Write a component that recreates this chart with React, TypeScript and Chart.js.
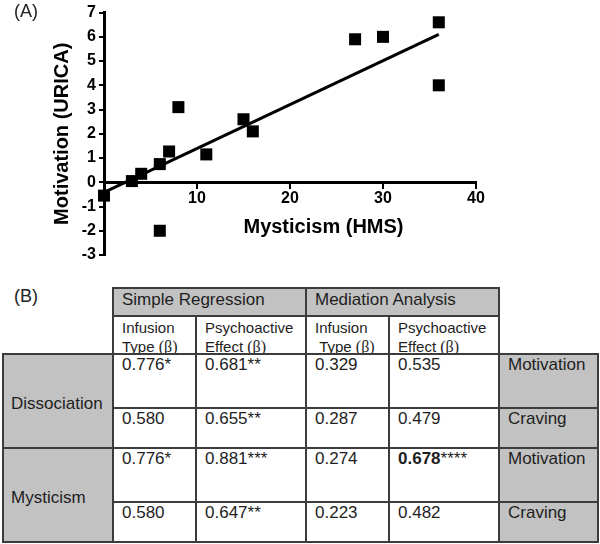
import React, { useEffect, useRef } from 'react';
import { Chart, registerables } from 'chart.js';

Chart.register(...registerables);

// ---------- Panel A data ----------
const mysticism = [0, 3, 4, 6, 7, 8, 11, 15, 16, 6, 27, 30, 36, 36];
const motivation = [-0.55, 0.05, 0.35, 0.75, 1.27, 3.1, 1.15, 2.6, 2.1, -2.0, 5.9, 6.0, 6.6, 4.0];
const fitX = [0, 36];
const fitY = [-0.42, 6.1];
const xTitle = 'Mysticism (HMS)';
const yTitle = 'Motivation (URICA)';

// ---------- Panel B data ----------
const simpleHeader = 'Simple Regression';
const mediationHeader = 'Mediation Analysis';
const groups = ['Dissociation', 'Mysticism'];
const outcomes = ['Motivation', 'Craving', 'Motivation', 'Craving'];
const simpleInfusion = ['0.776*', '0.580', '0.776*', '0.580'];
const simplePsycho = ['0.681**', '0.655**', '0.881***', '0.647**'];
const medInfusion = ['0.329', '0.287', '0.274', '0.223'];
const medPsycho = ['0.535', '0.479', '0.678', '0.482'];
const medPsychoStars = ['', '', '****', ''];
const medPsychoBold = [false, false, true, false];

const FONT = '"Liberation Sans", Arial, Helvetica, sans-serif';

// layout constants
const colX = [3, 113, 196, 306, 389, 499, 598];
const rowY = [288, 316, 354, 408, 448, 502, 542];
const GRAY = '#c2c2c2';
const LINE = '#3c3c3c';
const xTitlePos = 23.6;

const xTitlePlugin = {
  id: 'xTitlePlugin',
  afterDraw(chart: any) {
    const { ctx, scales } = chart;
    const x = scales.x;
    const y = scales.y;
    ctx.save();
    ctx.font = `bold 20px ${FONT}`;
    ctx.fillStyle = '#000';
    ctx.textAlign = 'center';
    ctx.textBaseline = 'alphabetic';
    ctx.fillText(xTitle, x.getPixelForValue(xTitlePos), y.getPixelForValue(0) + 51);
    ctx.restore();
  },
};

function ScatterChart() {
  const ref = useRef<HTMLCanvasElement | null>(null);
  useEffect(() => {
    if (!ref.current) return;
    Chart.defaults.font.family = FONT;
    const tickFont = { family: FONT, size: 16, weight: 'bold' as const };
    const chart = new Chart(ref.current, {
      type: 'scatter',
      data: {
        datasets: [
          {
            type: 'line' as any,
            data: fitX.map((x, i) => ({ x, y: fitY[i] })),
            borderColor: '#000',
            borderWidth: 3,
            pointRadius: 0,
            fill: false,
            clip: false,
            order: 1,
          } as any,
          {
            type: 'scatter',
            data: mysticism.map((x, i) => ({ x, y: motivation[i] })),
            pointStyle: 'rect',
            pointRadius: 8.5,
            backgroundColor: '#000',
            borderColor: '#000',
            borderWidth: 0,
            clip: false,
            order: 0,
          } as any,
        ],
      },
      options: {
        responsive: false,
        animation: false,
        devicePixelRatio: 1,
        layout: { padding: { left: 0, top: 10, right: 124, bottom: 15 } },
        plugins: { legend: { display: false }, tooltip: { enabled: false } },
        scales: {
          x: {
            type: 'linear',
            position: { y: 0 } as any,
            min: 0,
            max: 40,
            ticks: {
              stepSize: 10,
              callback: (v: any) => (v === 0 ? '' : String(v)),
              font: tickFont,
              color: '#000',
              padding: 2,
              maxRotation: 0,
            },
            grid: { display: true, drawOnChartArea: false, drawTicks: true, tickLength: 5, color: '#000', lineWidth: 2 },
            border: { display: true, color: '#000', width: 3 },
            title: { display: false },
          },
          y: {
            type: 'linear',
            position: 'left',
            min: -3,
            max: 7,
            ticks: { stepSize: 1, font: tickFont, color: '#000', padding: 3 },
            grid: { display: true, drawOnChartArea: false, drawTicks: true, tickLength: 5, color: '#000', lineWidth: 2 },
            border: { display: true, color: '#000', width: 3 },
            title: {
              display: true,
              text: yTitle,
              color: '#000',
              font: { family: FONT, size: 20, weight: 'bold' },
              padding: { top: 50, bottom: 0 },
            },
            afterFit: (s: any) => {
              s.width = 104;
            },
          },
        },
      } as any,
      plugins: [xTitlePlugin],
    });
    return () => chart.destroy();
  }, []);
  return <canvas ref={ref} width={600} height={270} style={{ position: 'absolute', left: 0, top: 0 }} />;
}

type CellProps = {
  c0: number;
  c1: number;
  r0: number;
  r1: number;
  bg?: string;
  center?: boolean;
  pl?: number;
  pt?: number;
  fs?: number;
  children?: React.ReactNode;
};

function Cell({ c0, c1, r0, r1, bg, center, pl = 8, pt = 0, fs = 17, children }: CellProps) {
  const x0 = colX[c0];
  const x1 = colX[c1];
  const y0 = rowY[r0];
  const y1 = rowY[r1];
  return (
    <div
      style={{
        position: 'absolute',
        left: x0 - 1,
        top: y0 - 1,
        width: x1 - x0 + 2,
        height: y1 - y0 + 2,
        border: `2px solid ${LINE}`,
        boxSizing: 'border-box',
        background: bg || '#fff',
        paddingLeft: pl,
        paddingTop: pt,
        display: center ? 'flex' : 'block',
        alignItems: center ? 'center' : undefined,
        fontFamily: FONT,
        fontSize: fs,
        lineHeight: '19px',
        color: '#1e1e1e',
        whiteSpace: 'nowrap',
      }}
    >
      {children}
    </div>
  );
}

const Beta = () => <span style={{ fontFamily: '"Liberation Serif", "Times New Roman", serif', fontSize: 16 }}>(β)</span>;

function ResultsTable() {
  const cells: React.ReactNode[] = [];
  // header row 1
  cells.push(
    <Cell key="h1a" c0={1} c1={3} r0={0} r1={1} bg={GRAY} pt={1}>
      {simpleHeader}
    </Cell>
  );
  cells.push(
    <Cell key="h1b" c0={3} c1={5} r0={0} r1={1} bg={GRAY} pt={1}>
      {mediationHeader}
    </Cell>
  );
  // header row 2
  cells.push(
    <Cell key="h2a" c0={1} c1={2} r0={1} r1={2} fs={15} pt={1}>
      Infusion
      <br />
      Type <Beta />
    </Cell>
  );
  cells.push(
    <Cell key="h2b" c0={2} c1={3} r0={1} r1={2} fs={15} pt={1}>
      Psychoactive
      <br />
      Effect <Beta />
    </Cell>
  );
  cells.push(
    <Cell key="h2c" c0={3} c1={4} r0={1} r1={2} fs={15} pt={1}>
      Infusion
      <br />
      {'\u00a0Type '}
      <Beta />
    </Cell>
  );
  cells.push(
    <Cell key="h2d" c0={4} c1={5} r0={1} r1={2} fs={15} pt={1}>
      Psychoactive
      <br />
      Effect <Beta />
    </Cell>
  );
  // group labels
  groups.forEach((g, gi) => {
    cells.push(
      <Cell key={'g' + gi} c0={0} c1={1} r0={2 + gi * 2} r1={4 + gi * 2} bg={GRAY} center pl={7} pt={4}>
        {g}
      </Cell>
    );
  });
  // data rows
  outcomes.forEach((o, i) => {
    const r0 = 2 + i;
    const r1 = 3 + i;
    cells.push(
      <Cell key={'a' + i} c0={1} c1={2} r0={r0} r1={r1}>
        {simpleInfusion[i]}
      </Cell>
    );
    cells.push(
      <Cell key={'b' + i} c0={2} c1={3} r0={r0} r1={r1}>
        {simplePsycho[i]}
      </Cell>
    );
    cells.push(
      <Cell key={'c' + i} c0={3} c1={4} r0={r0} r1={r1}>
        {medInfusion[i]}
      </Cell>
    );
    cells.push(
      <Cell key={'d' + i} c0={4} c1={5} r0={r0} r1={r1}>
        <span style={{ fontWeight: medPsychoBold[i] ? 'bold' : 'normal' }}>{medPsycho[i]}</span>
        {medPsychoStars[i]}
      </Cell>
    );
    cells.push(
      <Cell key={'e' + i} c0={5} c1={6} r0={r0} r1={r1} bg={GRAY}>
        {o}
      </Cell>
    );
  });
  return <>{cells}</>;
}

export default function App() {
  return (
    <div style={{ position: 'absolute', left: 0, top: 0, width: 600, height: 544, background: '#fff', overflow: 'hidden' }}>
      <ScatterChart />
      <div style={{ position: 'absolute', left: 14, top: 1, fontFamily: FONT, fontSize: 18, color: '#222' }}>(A)</div>
      <div style={{ position: 'absolute', left: 14, top: 286, fontFamily: FONT, fontSize: 18, color: '#222' }}>(B)</div>
      <ResultsTable />
    </div>
  );
}
